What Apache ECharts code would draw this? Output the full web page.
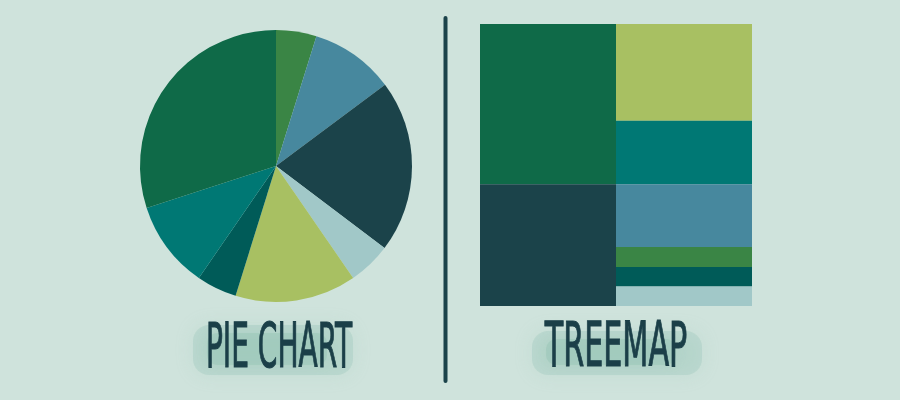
<!DOCTYPE html>
<html>
<head>
<meta charset="utf-8">
<script src="https://cdn.jsdelivr.net/npm/echarts@6/dist/echarts.min.js"></script>
<style>
html,body{margin:0;padding:0;background:#cfe3dc;}
#chart{width:900px;height:400px;}
</style>
</head>
<body>
<div id="chart"></div>
<script>
// Pie slices, clockwise from 12 o'clock (percent)
var pieNames = ['Green', 'Steel Blue', 'Dark Slate', 'Pale Blue', 'Lime', 'Deep Teal', 'Teal', 'Forest'];
var pieValues = [4.8, 10.0, 20.5, 5.1, 14.4, 4.8, 10.4, 30.0];

// Treemap cells (two columns, top to bottom)
var treeLeftNames = ['Forest', 'Dark Slate'];
var treeLeftValues = [160, 121.7];
var treeRightNames = ['Lime', 'Teal', 'Steel Blue', 'Green', 'Deep Teal', 'Pale Blue'];
var treeRightValues = [96.7, 63.3, 62.7, 20, 19.6, 19.4];

var titles = ['PIE CHART', 'TREEMAP'];

var palette = {
  'Forest': '#0f6a48',
  'Green': '#3a8545',
  'Steel Blue': '#47889e',
  'Dark Slate': '#1b434a',
  'Pale Blue': '#a1c8c8',
  'Lime': '#a8c062',
  'Deep Teal': '#005b58',
  'Teal': '#007874'
};

var chart = echarts.init(document.getElementById('chart'), null, {renderer: 'canvas'});

var barSeries = [];
treeLeftNames.forEach(function (n, i) {
  barSeries.push({
    type: 'bar', stack: 'tm', name: n, barWidth: '100%',
    itemStyle: {color: palette[n]},
    data: [treeLeftValues[i], '-'],
    silent: true
  });
});
treeRightNames.forEach(function (n, i) {
  barSeries.push({
    type: 'bar', stack: 'tm', name: n, barWidth: '100%',
    itemStyle: {color: palette[n]},
    data: ['-', treeRightValues[i]],
    silent: true
  });
});
var total = treeLeftValues.reduce(function (a, b) { return a + b; }, 0);

function brush(cx, cy, w, h) {
  return {
    type: 'group',
    children: [
      {type: 'rect', shape: {x: cx - w / 2, y: cy - h / 2, width: w, height: h, r: 16},
        style: {fill: 'rgba(150,196,182,0.3)', shadowBlur: 18, shadowColor: 'rgba(150,196,182,0.7)'}},
      {type: 'rect', shape: {x: cx - w / 2 + 14, y: cy - h / 2 + 8, width: w - 40, height: h - 18, r: 10},
        style: {fill: 'rgba(135,188,171,0.3)', shadowBlur: 12, shadowColor: 'rgba(135,188,171,0.5)'}}
    ]
  };
}

function title(text, cx, cy, sx) {
  return {
    type: 'text', x: cx, y: cy, scaleX: sx, scaleY: 1.55,
    style: {
      text: text, fill: '#1b3f48', stroke: '#1b3f48', lineWidth: 0.7,
      font: '40px "Liberation Sans Narrow", "DejaVu Sans Condensed", sans-serif',
      align: 'center', verticalAlign: 'middle'
    }
  };
}

chart.setOption({
  backgroundColor: '#cfe3dc',
  animation: false,
  grid: {left: 480, top: 24, width: 272, height: 282, containLabel: false},
  xAxis: {type: 'category', data: ['L', 'R'], show: false, boundaryGap: true},
  yAxis: {type: 'value', min: 0, max: total, inverse: true, show: false},
  series: [{
    type: 'pie',
    center: [276, 166],
    radius: 136,
    startAngle: 90,
    clockwise: true,
    label: {show: false},
    labelLine: {show: false},
    silent: true,
    data: pieNames.map(function (n, i) {
      return {name: n, value: pieValues[i], itemStyle: {color: palette[n]}};
    })
  }].concat(barSeries),
  graphic: [
    {type: 'line', shape: {x1: 445.5, y1: 18, x2: 445.5, y2: 381},
      style: {stroke: '#1b434a', lineWidth: 4, lineCap: 'round'}},
    brush(273, 350, 160, 50),
    brush(617, 353, 170, 44),
    title(titles[0], 279, 351, 0.78),
    title(titles[1], 616, 350, 0.84)
  ]
});
</script>
</body>
</html>
